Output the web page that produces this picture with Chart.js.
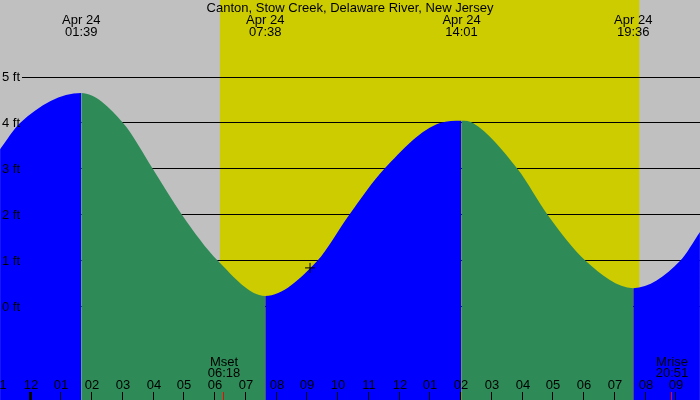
<!DOCTYPE html>
<html>
<head>
<meta charset="utf-8">
<script src="https://cdn.jsdelivr.net/npm/chart.js@4/dist/chart.umd.min.js"></script>
<style>
  body { margin: 0; background: #c0c0c0; }
  #wrap { width: 700px; height: 400px; }
</style>
</head>
<body>
<div id="wrap"><canvas id="tideChart" width="700" height="400"></canvas></div>
<script>
// tide curve (hours after midnight Apr 24, feet)
const tideHours = [-0.99, -0.34, 1.65, 3.01, 3.98, 4.93, 6.10, 7.633, 9.32, 10.36, 11.50, 13.32, 14.017, 14.39, 15.84, 16.82, 18.06, 19.60, 21.12, 21.77];
const tideFeet  = [3.43, 4.0, 4.65, 4.0, 3.0, 2.0, 1.0, 0.24, 1.0, 2.0, 3.0, 4.0, 4.05, 4.0, 3.0, 2.0, 1.0, 0.41, 1.0, 1.63];

const extremeHours = [1.65, 7.633, 14.017, 19.60];
const extremeDates = ["Apr 24", "Apr 24", "Apr 24", "Apr 24"];
const extremeTimes = ["01:39", "07:38", "14:01", "19:36"];

const sunHours = [6.16, 19.80];           // daylight band
const moonHours = [6.30, 20.85];
const moonNames = ["Mset", "Mrise"];
const moonTimes = ["06:18", "20:51"];

const nowHour = 9.09;
const nowFeet = 0.85;

const feetTicks = [0, 1, 2, 3, 4, 5];
const hourTicks = [];
for (let h = -1; h <= 21; h++) hourTicks.push(h);

const title = "Canton, Stow Creek, Delaware River, New Jersey";
const FONT = "13px 'Liberation Sans', Arial, sans-serif";

function hourLabel(h) {
  let hr = ((h % 24) + 24) % 24;
  let l = hr % 12 || 12;
  return (l < 10 ? "0" : "") + l;
}

const tidePlugin = {
  id: "tideDecor",
  beforeDatasetsDraw(chart) {
    const ctx = chart.ctx;
    const xs = chart.scales.x, ys = chart.scales.y;
    const a = chart.chartArea;
    ctx.save();
    ctx.fillStyle = "#c0c0c0";
    ctx.fillRect(a.left, a.top, a.right - a.left, a.bottom - a.top);
    const x1 = xs.getPixelForValue(sunHours[0]);
    const x2 = xs.getPixelForValue(sunHours[1]);
    ctx.fillStyle = "#cccc00";
    ctx.fillRect(x1, a.top, x2 - x1, a.bottom - a.top);
    // feet lines, behind the water
    ctx.strokeStyle = "#000";
    ctx.lineWidth = 1;
    feetTicks.forEach(f => {
      const y = Math.floor(ys.getPixelForValue(f)) + 0.5;
      ctx.beginPath();
      ctx.moveTo(22, y);
      ctx.lineTo(a.right, y);
      ctx.stroke();
    });
    ctx.restore();
  },
  afterDatasetsDraw(chart) {
    const ctx = chart.ctx;
    const xs = chart.scales.x, ys = chart.scales.y;
    ctx.save();
    ctx.font = FONT;
    ctx.fillStyle = "#000";
    ctx.textBaseline = "alphabetic";

    ctx.textAlign = "center";
    ctx.fillText(title, 350, 12);
    extremeHours.forEach((h, i) => {
      const x = xs.getPixelForValue(h);
      ctx.fillText(extremeDates[i], x, 24);
      ctx.fillText(extremeTimes[i], x, 36);
    });

    ctx.textAlign = "left";
    feetTicks.forEach(f => {
      ctx.fillText(f + " ft", 2, ys.getPixelForValue(f) + 4);
    });

    ctx.textAlign = "center";
    hourTicks.forEach(h => {
      const x = Math.round(xs.getPixelForValue(h));
      ctx.fillText(hourLabel(h), x, 389);
      if (h === 0) ctx.fillRect(x - 2, 392, 3, 8);
      else ctx.fillRect(x - 1, 392, 1, 8);
    });

    moonHours.forEach((h, i) => {
      const x = Math.round(xs.getPixelForValue(h));
      ctx.fillStyle = "#000";
      ctx.fillText(moonNames[i], x, 366);
      ctx.fillText(moonTimes[i], x, 377);
      ctx.fillStyle = "#ff0000";
      ctx.fillRect(x - 1, 392, 1, 8);
    });
    ctx.restore();
  }
};

new Chart(document.getElementById("tideChart"), {
  type: "line",
  data: {
    datasets: [{
      type: "scatter",
      data: [{ x: nowHour, y: nowFeet }],
      pointStyle: "cross",
      pointRadius: 5,
      borderColor: "#000",
      borderWidth: 1,
      order: 0
    }, {
      data: tideHours.map((h, i) => ({ x: h, y: tideFeet[i] })),
      cubicInterpolationMode: "monotone",
      fill: "start",
      borderWidth: 0,
      pointRadius: 0,
      backgroundColor: "#0000ff",
      segment: {
        backgroundColor: c => c.p1.parsed.y > c.p0.parsed.y ? "#0000ff" : "#2e8b57"
      },
      order: 1
    }]
  },
  options: {
    responsive: false,
    animation: false,
    layout: { padding: 0, autoPadding: false },
    plugins: { legend: { display: false }, tooltip: { enabled: false } },
    scales: {
      x: { type: "linear", min: -0.992, max: 21.772, display: false },
      y: { min: -2.022, max: 6.674, display: false }
    }
  },
  plugins: [tidePlugin]
});
</script>
</body>
</html>
